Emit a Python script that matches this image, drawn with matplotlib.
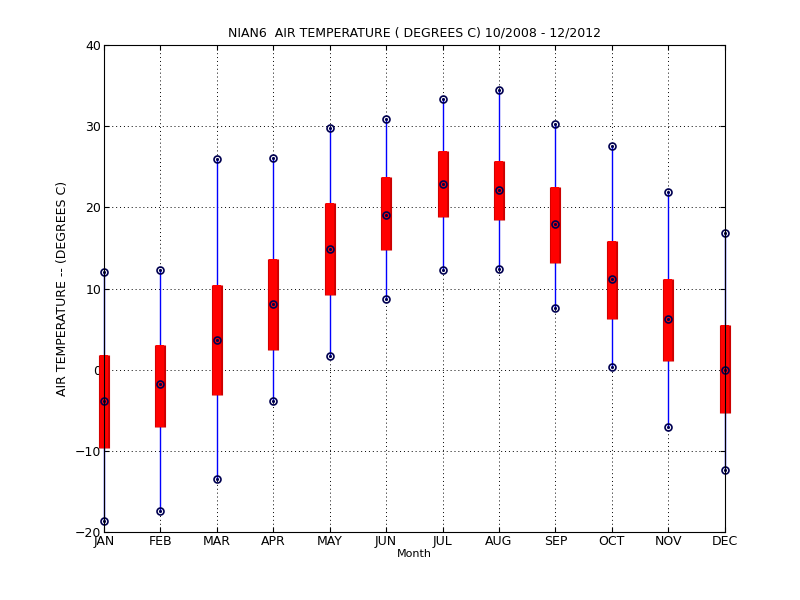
import matplotlib
matplotlib.use("Agg")
import matplotlib.pyplot as plt

months = ["JAN", "FEB", "MAR", "APR", "MAY", "JUN", "JUL", "AUG", "SEP", "OCT", "NOV", "DEC"]
t_max = [12.1, 12.3, 26.0, 26.1, 29.8, 30.9, 33.3, 34.4, 30.3, 27.6, 21.9, 16.8]
t_min = [-18.6, -17.4, -13.4, -3.8, 1.7, 8.7, 12.3, 12.4, 7.6, 0.4, -7.1, -12.4]
t_mean = [-3.9, -1.8, 3.7, 8.1, 14.9, 19.1, 22.9, 22.2, 18.0, 11.2, 6.2, 0.0]
box_hi = [1.8, 3.0, 10.5, 13.7, 20.6, 23.7, 26.9, 25.7, 22.5, 15.9, 11.2, 5.5]
box_lo = [-9.6, -7.0, -3.1, 2.5, 9.2, 14.8, 18.8, 18.5, 13.1, 6.3, 1.1, -5.3]

fig = plt.figure(figsize=(8, 6), dpi=100)
ax = fig.add_axes([0.13, 0.113, 0.776, 0.812])
x = list(range(1, 13))
for i in range(12):
    ax.plot([x[i], x[i]], [t_min[i], t_max[i]], color="blue", lw=1, clip_on=False)
    ax.plot([x[i], x[i]], [box_lo[i], box_hi[i]], color="#cc0000", lw=8,
            solid_capstyle="butt", clip_on=False)
    ax.plot([x[i], x[i]], [box_lo[i], box_hi[i]], color="red", lw=6,
            solid_capstyle="butt", clip_on=False)
for vals in (t_max, t_min, t_mean):
    ax.plot(x, vals, ls="none", marker="o", ms=5, mfc="none", mec="#000050", mew=1.2, clip_on=False)
    ax.plot(x, vals, ls="none", marker=".", ms=2.5, color="#000050", clip_on=False)

ax.set_xlim(1, 12)
ax.set_ylim(-20, 40)
ax.set_xticks(x)
ax.set_xticklabels(months)
ax.set_yticks(range(-20, 41, 10))
ax.grid(True, ls=(0, (1, 3)), color="black", lw=0.7)
ax.tick_params(direction="in", labelsize=9, top=True, right=True, pad=2)
ax.set_xlabel("Month", fontsize=8, labelpad=1)
ax.set_ylabel("AIR TEMPERATURE -- (DEGREES C)", fontsize=9)
ax.set_title("NIAN6  AIR TEMPERATURE ( DEGREES C) 10/2008 - 12/2012", fontsize=9)
fig.savefig("out.png", dpi=100)
